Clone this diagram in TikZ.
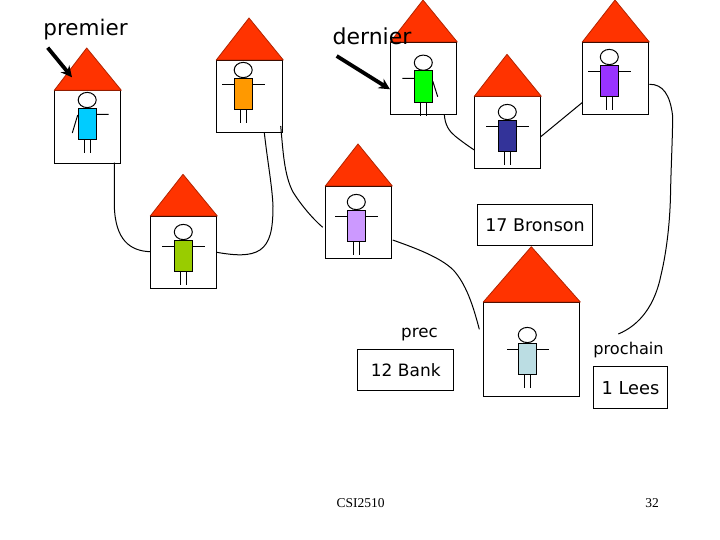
\documentclass[tikz,border=0pt]{standalone}
\usepackage{fontspec}
\setmainfont{DejaVu Sans}
\newfontfamily\serifcaption{Liberation Serif}
\definecolor{roofred}{HTML}{FF3300}
\definecolor{pcyan}{HTML}{00CCFF}
\definecolor{porange}{HTML}{FF9900}
\definecolor{pgreen}{HTML}{00FF00}
\definecolor{pnavy}{HTML}{333399}
\definecolor{ppurple}{HTML}{9933FF}
\definecolor{polive}{HTML}{99CC00}
\definecolor{plilac}{HTML}{CC99FF}
\definecolor{ppale}{HTML}{BBDDE3}
\usetikzlibrary{arrows.meta}
\tikzset{
  x=1pt,y=-1pt,
  every picture/.style={line width=1pt},
  boxnode/.style={draw=black,fill=white,rectangle,inner sep=0pt,anchor=north west},
  labelbox/.style={draw=black,fill=white,rectangle,inner sep=0pt,anchor=north west,align=center},
  lbl/.style={inner sep=0pt,anchor=center},
  capt/.style={inner sep=0pt,anchor=center,font=\serifcaption\fontsize{13.5}{15}\selectfont},
  link/.style={draw=black,line width=1pt},
  pointer/.style={draw=black,line width=3.8pt,-{Stealth[length=11pt,width=11pt]}},
  roof/.style={fill=roofred,draw=roofred!70!black,line width=0.8pt,line join=round},
}
\newcommand{\fsz}[1]{\fontsize{#1}{#1}\selectfont}
% name, x0, y0, w, h, apex x, apex y
\newcommand{\housebox}[7]{%
  \node[boxnode,minimum width=#4pt,minimum height=#5pt] (#1) at (#2,#3) {};
  \draw[roof] (#1.north west) -- (#6,#7) -- (#1.north east) -- cycle;
}
% body left, body top, colour
\newcommand{\personcore}[3]{%
  \begin{scope}[shift={(#1,#2)}]
    \draw (9,-8.3) ellipse [x radius=9,y radius=7.6];
    \draw (6,31.4) -- (6,44.6) (12.4,31.4) -- (12.4,44.6);
    \draw[fill=#3] (0,0) rectangle (18.4,31.4);
  \end{scope}
}
\newcommand{\armsboth}[2]{\begin{scope}[shift={(#1,#2)}]\draw (-12,6) -- (0,6) (18.4,6) -- (30.4,6);\end{scope}}
\begin{document}
\begin{tikzpicture}
\useasboundingbox (0,0) rectangle (720,540);
\fill[white] (0,0) rectangle (720,540);

\housebox{hA}{54.3}{90.3}{66}{72.3}{86.7}{48}
\personcore{78.2}{108.3}{pcyan}
\draw (96.6,114.3) -- (108.7,114.3) (77.7,115) -- (72.3,133);

\housebox{hB}{216.3}{60}{66}{72.3}{249}{18}
\personcore{234.2}{78.3}{porange}
\armsboth{234.2}{78.3}

\housebox{hC}{390.3}{42}{66}{72.3}{423}{0}
\personcore{414.3}{71}{pgreen}
\draw (402.3,78.3) -- (414.3,78.3) (432.7,81) -- (437.7,96.7);

\housebox{hD}{474.3}{96.3}{66}{72}{507}{54.3}
\personcore{498.3}{120.3}{pnavy}
\armsboth{498.3}{120.3}

\housebox{hE}{582.3}{42}{66}{72.3}{615}{0}
\personcore{600.3}{65.3}{ppurple}
\armsboth{600.3}{65.3}

\housebox{hF}{150.3}{216}{66}{72.3}{183}{174.3}
\personcore{174.3}{240.3}{polive}
\armsboth{174.3}{240.3}

\housebox{hG}{325.3}{186}{66}{72}{358}{144}
\personcore{347.3}{210.3}{plilac}
\armsboth{347.3}{210.3}

\housebox{hH}{483.3}{302}{96}{94.3}{531.3}{246.7}
\personcore{518.3}{343.3}{ppale}
\armsboth{519}{343.3}

\node[labelbox,minimum width=114.4pt,minimum height=41pt,font=\fsz{17.5}] (bronson) at (477.3,204.3) {17 Bronson};
\node[labelbox,minimum width=96pt,minimum height=41pt,font=\fsz{17}] (bank) at (357.3,349.3) {12 Bank};
\node[labelbox,minimum width=73.4pt,minimum height=42pt,font=\fsz{17.8}] (lees) at (593.3,366.3) {1 Lees};

\node[lbl,font=\fsz{21.5}] (premier) at (85.5,30) {premier};
\node[lbl,font=\fsz{22}] (dernier) at (372,36.5) {dernier};
\node[lbl,font=\fsz{16.7}] (prec) at (419.5,335) {prec};
\node[lbl,font=\fsz{16.2}] (prochain) at (628.5,350.5) {prochain};
\node[capt] (course) at (360.5,503) {CSI2510};
\node[capt] (page) at (652,503) {32};

\coordinate (pA) at (47.7,47.7);
\coordinate (pB) at (72,77.3);
\coordinate (dA) at (336.7,56);
\coordinate (dB) at (390,89.3);
\draw[pointer] (pA) -- (pB);
\draw[pointer] (dA) -- (dB);

\coordinate (a1) at (114.3,162.7);
\coordinate (a2) at (150.3,251.7);
\draw[link] (a1) -- (114.3,205) .. controls (115,240) and (130,251) .. (a2);
\coordinate (b1) at (216.7,252.3);
\coordinate (b2) at (264.3,132.7);
\draw[link] (b1) .. controls (235,255.5) and (250,256.5) .. (260,250) .. controls (270,243) and (273,230) .. (273,206) .. controls (272,185) and (268,165) .. (b2);
\coordinate (c1) at (280.7,126);
\coordinate (c2) at (322.7,227.3);
\draw[link] (c1) .. controls (283,150) and (284,175) .. (293,192) .. controls (301,205) and (313,219) .. (c2);
\coordinate (d1) at (392.7,240);
\coordinate (d2) at (479.3,329.3);
\draw[link] (d1) .. controls (415,248) and (440,257) .. (453.3,270) .. controls (466,284) and (473,305) .. (d2);
\coordinate (e1) at (618.3,334);
\coordinate (e2) at (649.3,84.3);
\draw[link] (e1) .. controls (640,325) and (655,305) .. (661,275) .. controls (667,250) and (670,220) .. (670.5,195) .. controls (671,165) and (673,130) .. (672.5,115) .. controls (670,95) and (663,84) .. (e2);
\coordinate (f1) at (444.3,114.3);
\coordinate (f2) at (474.3,150);
\draw[link] (f1) .. controls (445,125) and (449,131) .. (455,136) .. controls (460,140) and (468,146) .. (f2);
\coordinate (g1) at (541,136.5);
\coordinate (g2) at (582.3,102.5);
\draw[link] (g1) -- (g2);
\end{tikzpicture}
\end{document}
